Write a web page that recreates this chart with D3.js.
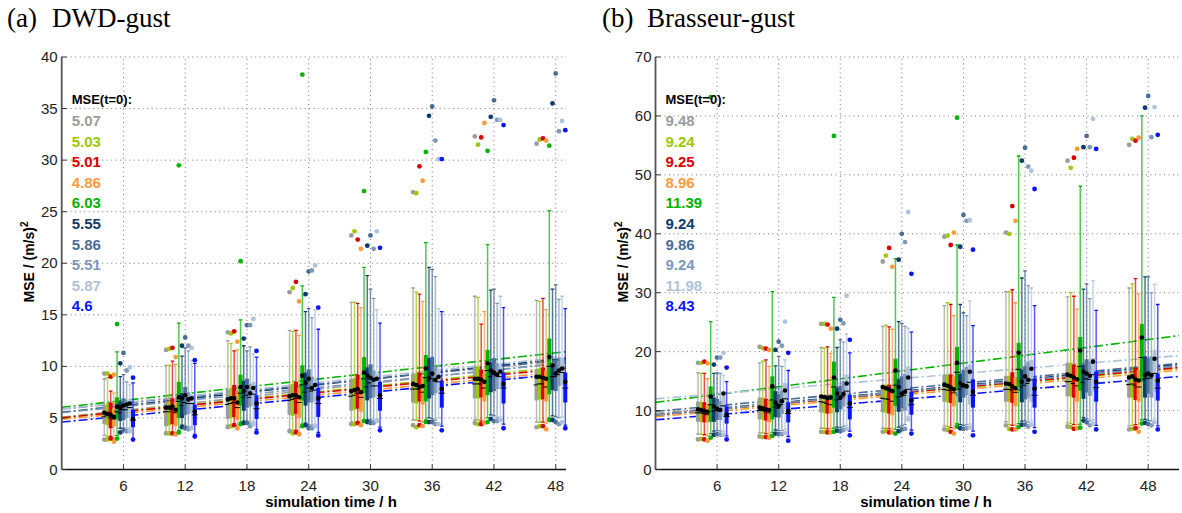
<!DOCTYPE html>
<html>
<head>
<meta charset="utf-8">
<script src="https://cdn.jsdelivr.net/npm/d3@7"></script>
<style>
body { margin: 0; background: #fff; }
svg { display: block; }
</style>
</head>
<body>
<div class="chart"></div>
<script>
// simulation times and the 10 ensemble members
const times = [6, 12, 18, 24, 30, 36, 42, 48];
const memberColors = ["#9c9c9c", "#9dc800", "#dc0000", "#ff9a3c", "#00b400",
                      "#0e3a6c", "#4a6d95", "#7f98b8", "#b1c3d9", "#0a14ff"];

// MSE at t=0 (legend) and slope of the dash-dot fits
const mseA = ["5.07", "5.03", "5.01", "4.86", "6.03", "5.55", "5.86", "5.51", "5.87", "4.6"];
const mseB = ["9.48", "9.24", "9.25", "8.96", "11.39", "9.24", "9.86", "9.24", "11.98", "8.43"];
const slopeA = [0.109, 0.101, 0.098, 0.095, 0.110, 0.107, 0.097, 0.098, 0.103, 0.096];
const slopeB = [0.157, 0.155, 0.158, 0.154, 0.222, 0.168, 0.160, 0.164, 0.144, 0.144];

// (a) DWD-gust — rows: times, columns: members
const aHi = [
  [9.3, 9.3, 9.0, 9.2, 14.1, 10.3, 11.3, 9.6, 9.9, 8.9],
  [11.6, 11.7, 11.8, 10.9, 29.5, 12.0, 12.8, 12.0, 11.8, 10.6],
  [13.3, 13.2, 13.4, 12.4, 20.2, 12.7, 14.0, 14.0, 14.6, 11.5],
  [17.2, 17.6, 18.2, 16.3, 38.3, 17.0, 19.2, 19.3, 19.8, 15.7],
  [22.7, 23.1, 22.3, 21.4, 27.0, 21.7, 22.7, 21.4, 23.1, 21.5],
  [26.9, 26.8, 29.4, 28.0, 30.8, 34.3, 35.2, 31.9, 30.1, 30.1],
  [32.3, 31.5, 32.2, 33.6, 30.9, 34.2, 35.8, 33.9, 33.9, 33.4],
  [31.6, 32.0, 32.1, 31.9, 31.4, 35.5, 38.4, 32.8, 33.8, 32.9]
];
const aWhi = [
  [8.8, 8.9, 7.6, 7.4, 11.4, 9.0, 9.2, 8.5, 8.2, 8.4],
  [10.1, 10.1, 10.5, 10.2, 14.2, 11.0, 11.8, 11.5, 10.6, 10.3],
  [12.5, 12.2, 11.5, 11.6, 14.5, 12.0, 11.5, 11.9, 11.2, 10.9],
  [13.5, 13.4, 13.5, 13.0, 17.8, 15.3, 15.6, 14.7, 15.5, 13.6],
  [16.2, 16.2, 16.1, 15.7, 19.6, 18.8, 17.5, 16.6, 15.5, 14.2],
  [17.6, 17.2, 17.0, 16.3, 22.0, 19.6, 19.4, 18.7, 15.6, 15.3],
  [16.8, 16.7, 14.1, 15.3, 21.8, 17.4, 17.5, 16.1, 16.8, 15.7],
  [16.4, 16.3, 16.6, 15.5, 25.1, 17.5, 17.9, 16.5, 16.8, 15.6]
];
const aQ3 = [
  [6.2, 6.4, 6.5, 5.9, 7.0, 6.6, 6.9, 6.7, 6.8, 5.8],
  [6.5, 6.6, 6.9, 6.5, 8.5, 7.4, 8.0, 7.5, 7.2, 6.3],
  [7.7, 7.9, 8.2, 7.6, 9.2, 8.6, 8.8, 8.3, 8.5, 7.2],
  [8.1, 8.3, 8.5, 7.9, 10.1, 9.4, 9.7, 9.0, 8.8, 7.9],
  [8.6, 8.8, 9.2, 8.7, 10.9, 9.9, 10.2, 9.6, 9.3, 8.5],
  [9.3, 9.3, 9.4, 9.0, 11.1, 10.8, 10.9, 10.0, 9.6, 8.6],
  [9.9, 10.0, 9.7, 9.3, 11.6, 10.4, 10.8, 10.3, 10.1, 9.4],
  [9.7, 9.8, 9.9, 9.6, 12.7, 10.1, 10.6, 10.5, 10.8, 9.4]
];
const aMed = [
  [5.1, 5.2, 5.0, 4.9, 5.6, 5.5, 5.8, 5.8, 6.0, 4.8],
  [5.6, 5.6, 5.8, 5.5, 6.6, 6.2, 6.5, 6.4, 6.4, 5.3],
  [6.3, 6.4, 6.5, 6.0, 7.4, 7.0, 7.2, 7.0, 7.3, 5.9],
  [6.7, 6.8, 6.9, 6.5, 8.2, 7.5, 7.9, 7.6, 7.7, 6.4],
  [7.1, 7.2, 7.4, 7.0, 8.8, 8.0, 8.4, 8.1, 8.1, 6.9],
  [7.8, 7.8, 7.8, 7.5, 8.9, 8.6, 8.8, 8.6, 8.5, 7.4],
  [8.3, 8.3, 8.3, 7.9, 9.6, 9.0, 9.2, 9.1, 9.0, 7.9],
  [8.2, 8.3, 8.3, 8.0, 10.0, 9.0, 9.0, 9.2, 9.4, 7.9]
];
const aQ1 = [
  [4.4, 4.3, 4.0, 4.2, 4.9, 4.7, 4.8, 5.0, 5.0, 4.1],
  [4.2, 4.3, 4.4, 4.2, 5.0, 5.0, 5.3, 5.4, 5.5, 4.3],
  [4.9, 5.0, 5.1, 4.8, 6.2, 5.7, 6.0, 6.1, 6.2, 4.9],
  [5.3, 5.2, 5.4, 5.0, 6.7, 6.2, 6.5, 6.5, 6.6, 5.1],
  [5.7, 5.8, 5.9, 5.6, 7.4, 6.7, 6.9, 7.0, 7.1, 5.7],
  [6.5, 6.4, 6.6, 6.3, 6.6, 6.9, 7.2, 7.4, 7.6, 6.0],
  [6.9, 6.9, 7.0, 6.6, 7.2, 7.5, 7.6, 7.8, 7.9, 6.4],
  [6.7, 6.8, 6.8, 6.6, 7.3, 7.7, 7.6, 8.1, 8.2, 6.5]
];
const aWlo = [
  [3.3, 3.2, 3.2, 3.0, 3.3, 4.0, 4.0, 3.9, 4.0, 3.0],
  [3.6, 3.6, 3.6, 3.5, 3.8, 4.3, 4.2, 4.1, 4.2, 3.4],
  [4.3, 4.3, 4.4, 4.1, 4.6, 4.7, 4.7, 4.5, 4.7, 3.9],
  [3.9, 3.8, 3.8, 3.6, 4.4, 4.5, 4.3, 4.3, 4.4, 3.6],
  [4.6, 4.6, 4.6, 4.5, 4.8, 4.8, 4.8, 4.7, 4.9, 4.1],
  [4.8, 4.8, 4.7, 4.6, 4.8, 5.0, 4.9, 4.8, 5.0, 4.2],
  [4.8, 4.8, 4.7, 4.6, 5.0, 5.3, 5.2, 5.0, 5.1, 4.4],
  [4.6, 4.6, 4.6, 4.5, 5.0, 5.2, 5.1, 5.0, 5.1, 4.3]
];
const aLo = [
  [2.9, 2.9, 3.0, 2.7, 3.0, 3.6, 3.8, 3.7, 3.7, 2.9],
  [3.5, 3.5, 3.5, 3.4, 3.6, 4.1, 4.0, 3.9, 4.0, 3.2],
  [4.1, 4.2, 4.3, 4.0, 4.4, 4.5, 4.5, 4.2, 4.4, 3.6],
  [3.7, 3.5, 3.6, 3.4, 4.2, 4.3, 4.0, 4.0, 4.2, 3.3],
  [4.4, 4.4, 4.5, 4.3, 4.7, 4.6, 4.5, 4.5, 4.7, 3.8],
  [4.3, 4.1, 4.3, 4.2, 4.6, 4.6, 4.6, 4.4, 4.4, 3.8],
  [4.5, 4.4, 4.4, 4.5, 4.6, 4.9, 4.7, 4.7, 4.8, 4.0],
  [4.1, 4.2, 4.2, 3.9, 4.8, 4.8, 4.6, 4.4, 4.6, 4.0]
];
const aMean = [
  [5.5, 5.4, 5.3, 5.1, 6.1, 6.0, 6.2, 6.3, 6.4, 4.9],
  [6.0, 6.0, 6.1, 5.8, 7.0, 6.9, 7.2, 6.8, 6.9, 5.6],
  [6.8, 6.9, 6.9, 6.5, 8.0, 7.6, 8.0, 7.4, 7.9, 6.4],
  [7.1, 7.2, 7.2, 7.0, 9.1, 8.4, 8.8, 7.9, 8.2, 6.9],
  [7.6, 7.7, 7.8, 7.5, 9.4, 9.1, 8.9, 8.7, 8.8, 7.2],
  [8.3, 8.2, 8.0, 8.1, 9.8, 8.9, 9.3, 8.7, 9.0, 7.8],
  [8.8, 8.8, 8.7, 8.5, 10.3, 9.6, 9.4, 9.2, 9.5, 8.3],
  [9.0, 9.0, 8.9, 8.8, 10.9, 10.1, 9.3, 9.6, 9.8, 8.5]
];

// (b) Brasseur-gust
const bHi = [
  [18.1, 18.1, 18.3, 18.0, 63.2, 17.8, 19.0, 19.0, 19.8, 17.3],
  [20.8, 20.6, 20.5, 20.3, null, 20.3, 21.7, 21.0, 25.1, 19.8],
  [24.7, 24.7, 24.6, 23.9, 56.6, 23.9, 25.4, 24.8, 29.5, 22.0],
  [35.3, 36.3, 37.6, 34.4, null, 35.6, 40.0, 38.6, 43.7, 33.2],
  [39.5, 39.7, 38.1, 40.2, 59.7, 37.8, 43.2, 42.2, 42.3, 37.3],
  [40.2, 40.0, 44.7, 42.2, null, 52.4, 54.6, 51.4, 50.7, 47.6],
  [52.4, 51.2, 52.9, 54.4, null, 54.7, 56.6, 54.7, 59.5, 54.4],
  [55.1, 56.1, 55.8, 56.3, null, 61.4, 63.4, 56.4, 61.5, 56.8]
];
const bWhi = [
  [16.4, 16.3, 16.3, 15.4, 25.1, 16.3, 16.4, 16.3, 16.0, 14.9],
  [18.1, 18.4, 18.6, 17.5, 30.2, 17.6, 19.2, 17.5, 18.6, 16.8],
  [20.7, 20.6, 20.8, 19.7, 29.2, 20.7, 22.0, 21.6, 23.0, 19.8],
  [24.3, 24.5, 24.2, 23.8, 35.8, 25.1, 24.8, 24.3, 24.0, 23.3],
  [27.8, 28.3, 28.0, 26.1, 38.1, 28.0, 26.6, 26.1, 28.6, 24.4],
  [30.2, 30.2, 30.5, 28.3, 53.2, 32.5, 33.7, 31.2, 30.8, 27.8],
  [29.3, 30.0, 29.4, 27.2, 48.1, 30.6, 31.5, 29.0, 32.0, 27.0],
  [30.8, 31.5, 32.4, 29.8, 60.0, 32.7, 32.7, 30.0, 31.4, 28.0]
];
const bQ3 = [
  [11.5, 11.5, 11.4, 11.0, 14.1, 12.2, 12.0, 11.6, 12.5, 10.7],
  [12.2, 12.2, 12.0, 11.8, 15.8, 13.3, 12.8, 13.4, 14.7, 11.4],
  [12.7, 12.6, 12.4, 12.3, 18.3, 13.9, 14.2, 15.0, 16.1, 12.7],
  [14.4, 14.4, 14.4, 14.0, 18.8, 15.3, 15.8, 16.2, 17.5, 13.2],
  [16.1, 16.1, 16.1, 15.8, 20.8, 16.2, 16.9, 17.4, 17.8, 15.3],
  [15.9, 15.9, 16.5, 15.6, 21.5, 16.9, 17.5, 18.3, 18.6, 15.4],
  [18.1, 18.1, 17.8, 17.5, 22.5, 17.8, 18.7, 18.3, 18.9, 16.6],
  [16.1, 16.1, 17.2, 16.9, 24.7, 19.2, 18.9, 19.2, 20.3, 16.3]
];
const bMed = [
  [9.6, 9.6, 9.5, 9.3, 11.0, 9.9, 10.0, 9.9, 10.8, 9.0],
  [10.0, 10.0, 9.8, 9.6, 11.8, 10.6, 10.4, 11.0, 12.0, 9.5],
  [11.5, 11.4, 11.2, 11.0, 14.0, 11.8, 11.9, 12.3, 13.3, 10.5],
  [12.1, 12.0, 11.9, 11.6, 14.3, 12.3, 12.4, 12.6, 13.6, 11.0],
  [13.6, 13.5, 13.4, 13.0, 16.5, 13.6, 14.0, 14.3, 14.8, 12.6],
  [13.6, 13.6, 13.5, 13.1, 17.0, 14.0, 14.3, 14.6, 15.2, 12.6],
  [14.9, 14.9, 14.6, 14.2, 17.5, 14.8, 15.4, 15.3, 16.1, 13.9],
  [14.4, 14.5, 14.3, 14.0, 19.0, 15.3, 15.5, 15.5, 16.3, 13.8]
];
const bQ1 = [
  [8.1, 8.1, 8.0, 8.0, 8.1, 8.1, 8.4, 8.4, 9.0, 7.8],
  [8.5, 8.5, 8.3, 8.0, 8.5, 8.9, 8.8, 9.4, 10.2, 8.0],
  [9.7, 9.6, 9.5, 9.5, 10.5, 9.7, 10.2, 10.7, 10.7, 8.5],
  [9.7, 9.7, 9.5, 9.2, 10.8, 9.8, 10.4, 10.0, 10.5, 9.3],
  [11.5, 11.4, 11.3, 10.7, 13.6, 11.4, 12.2, 12.7, 11.0, 10.5],
  [11.5, 11.5, 11.3, 10.7, 14.1, 11.4, 11.9, 12.2, 11.5, 10.5],
  [12.4, 12.4, 12.2, 11.5, 13.4, 12.0, 13.1, 12.5, 13.2, 11.5],
  [12.2, 12.2, 11.8, 11.5, 14.9, 12.2, 12.9, 12.2, 13.1, 11.7]
];
const bWlo = [
  [6.0, 6.0, 5.9, 5.7, 6.1, 6.5, 6.6, 6.5, 6.5, 5.7],
  [6.2, 6.2, 6.1, 6.0, 6.3, 6.7, 6.6, 6.6, 6.8, 5.6],
  [7.0, 7.0, 6.9, 6.9, 7.0, 7.2, 7.1, 7.3, 7.5, 6.5],
  [7.0, 7.0, 6.9, 6.9, 6.8, 7.2, 7.4, 7.6, 9.0, 6.7],
  [7.4, 7.3, 7.1, 6.9, 7.8, 7.6, 7.5, 7.6, 7.7, 6.5],
  [8.1, 7.6, 7.5, 7.5, 7.8, 8.2, 8.2, 8.0, 8.2, 7.1],
  [7.9, 7.8, 7.6, 7.6, 7.7, 8.8, 8.6, 8.2, 8.4, 7.5],
  [7.4, 7.5, 7.6, 7.1, 8.4, 8.5, 8.3, 8.2, 8.6, 7.4]
];
const bLo = [
  [5.1, 5.2, 5.1, 4.9, 5.4, 5.9, 6.0, 5.9, 5.9, 5.1],
  [5.6, 5.5, 5.5, 5.4, 5.7, 6.1, 6.0, 6.0, 6.2, 4.9],
  [6.4, 6.4, 6.3, 6.3, 6.4, 6.6, 6.5, 6.7, 6.9, 5.8],
  [6.4, 6.5, 6.3, 6.3, 6.1, 6.5, 6.8, 6.9, 8.5, 6.1],
  [6.8, 6.7, 6.4, 6.1, 7.3, 7.0, 6.9, 7.0, 7.1, 5.8],
  [7.5, 6.9, 6.8, 6.8, 7.2, 7.6, 7.6, 7.3, 7.6, 6.4],
  [7.3, 7.2, 6.9, 7.0, 7.1, 8.3, 8.0, 7.5, 7.8, 6.8],
  [6.8, 6.9, 7.0, 6.4, 7.8, 7.9, 7.7, 7.5, 8.0, 6.8]
];
const bMean = [
  [10.2, 10.1, 9.9, 9.8, 12.4, 10.7, 10.3, 10.1, 12.9, 9.3],
  [10.5, 10.4, 10.2, 10.1, 14.1, 11.3, 10.8, 11.6, 13.4, 9.9],
  [12.4, 12.3, 12.1, 12.2, 15.6, 12.9, 12.2, 12.8, 14.6, 11.2],
  [14.0, 13.8, 13.6, 13.3, 16.8, 14.0, 12.9, 13.2, 15.6, 11.7],
  [14.4, 14.2, 13.9, 13.6, 18.1, 14.6, 14.3, 14.1, 16.6, 13.2],
  [14.6, 14.5, 14.1, 13.8, 19.8, 14.9, 15.8, 15.2, 17.1, 13.7],
  [16.1, 15.9, 15.6, 15.3, 20.2, 16.6, 16.3, 15.9, 18.3, 14.9],
  [15.6, 15.8, 15.3, 15.1, 22.4, 16.0, 16.3, 16.0, 18.8, 15.1]
];

const svg = d3.select(".chart").append("svg")
    .attr("width", 1182)
    .attr("height", 513);

const sans = "'Liberation Sans', Arial, Helvetica, sans-serif";
const serif = "'Liberation Serif', 'Times New Roman', serif";
const dodge = 0.31; // hours between members inside a group

function drawPanel(p) {
    const x = d3.scaleLinear().domain([0, p.xMax]).range([p.left, p.right]);
    const y = d3.scaleLinear().domain([0, p.yMax]).range([469.5, 57]);
    const g = svg.append("g");

    // dotted grid
    const yTicks = d3.range(p.yStep, p.yMax + 0.1, p.yStep);
    g.append("g").selectAll("line").data(yTicks).join("line")
        .attr("x1", p.left).attr("x2", p.right)
        .attr("y1", d => y(d)).attr("y2", d => y(d))
        .attr("stroke", "#777").attr("stroke-width", 1)
        .attr("stroke-dasharray", "1,3.5");
    g.append("g").selectAll("line").data(times).join("line")
        .attr("x1", d => x(d)).attr("x2", d => x(d))
        .attr("y1", y(0)).attr("y2", y(p.yMax))
        .attr("stroke", "#777").attr("stroke-width", 1)
        .attr("stroke-dasharray", "1,3.5");

    // regression lines
    g.append("g").selectAll("line").data(memberColors).join("line")
        .attr("x1", x(0)).attr("x2", x(p.xMax))
        .attr("y1", (c, k) => y(+p.mse[k]))
        .attr("y2", (c, k) => y(+p.mse[k] + p.slope[k] * p.xMax))
        .attr("stroke", c => c)
        .attr("stroke-width", 1.6)
        .attr("stroke-dasharray", "9,3,2,3");

    // one record per box
    const boxes = [];
    times.forEach((t, i) => {
        memberColors.forEach((c, k) => {
            boxes.push({
                pos: t + (k - 6) * dodge, color: c,
                hi: p.hi[i][k], whi: p.whi[i][k], q3: p.q3[i][k], med: p.med[i][k],
                q1: p.q1[i][k], wlo: p.wlo[i][k], lo: p.lo[i][k], mean: p.mean[i][k]
            });
        });
    });

    const bw = 4;
    const bx = g.append("g").selectAll("g").data(boxes).join("g");
    bx.append("line")
        .attr("x1", d => x(d.pos)).attr("x2", d => x(d.pos))
        .attr("y1", d => y(d.wlo)).attr("y2", d => y(d.whi))
        .attr("stroke", d => d.color).attr("stroke-opacity", 0.7)
        .attr("stroke-width", 1.5);
    bx.append("path")
        .attr("d", d => `M${x(d.pos) - 1.8},${y(d.whi)}h3.6M${x(d.pos) - 1.8},${y(d.wlo)}h3.6`)
        .attr("stroke", d => d.color).attr("stroke-width", 1.3);
    bx.append("rect")
        .attr("x", d => x(d.pos) - bw / 2)
        .attr("width", bw)
        .attr("y", d => y(d.q3))
        .attr("height", d => y(d.q1) - y(d.q3))
        .attr("fill", d => d.color);
    bx.append("line")
        .attr("x1", d => x(d.pos) - 3).attr("x2", d => x(d.pos) + 3)
        .attr("y1", d => y(d.med)).attr("y2", d => y(d.med))
        .attr("stroke", "#000").attr("stroke-width", 1);

    // min / max dots
    g.append("g").selectAll("circle").data(boxes.filter(d => d.hi != null)).join("circle")
        .attr("cx", d => x(d.pos)).attr("cy", d => y(d.hi))
        .attr("r", 2.4).attr("fill", d => d.color);
    g.append("g").selectAll("circle").data(boxes).join("circle")
        .attr("cx", d => x(d.pos)).attr("cy", d => y(d.lo))
        .attr("r", 2.4).attr("fill", d => d.color);
    // means
    g.append("g").selectAll("circle").data(boxes).join("circle")
        .attr("cx", d => x(d.pos)).attr("cy", d => y(d.mean))
        .attr("r", 2.3).attr("fill", "#000");

    // axes
    g.append("line")
        .attr("x1", p.left).attr("x2", p.left).attr("y1", y(0)).attr("y2", y(p.yMax))
        .attr("stroke", "#555").attr("stroke-width", 1.8);
    g.append("line")
        .attr("x1", p.left).attr("x2", p.right).attr("y1", y(0)).attr("y2", y(0))
        .attr("stroke", "#111").attr("stroke-width", 1.4);
    g.append("g").selectAll("line").data(d3.range(0, p.yMax + 0.1, p.yStep)).join("line")
        .attr("x1", p.left).attr("x2", p.left + 5)
        .attr("y1", d => y(d)).attr("y2", d => y(d))
        .attr("stroke", "#333");
    g.append("g").selectAll("line").data(times).join("line")
        .attr("x1", d => x(d)).attr("x2", d => x(d))
        .attr("y1", y(0)).attr("y2", y(0) - 5)
        .attr("stroke", "#333");

    g.append("g").selectAll("text").data(d3.range(0, p.yMax + 0.1, p.yStep)).join("text")
        .attr("x", p.left - 4).attr("y", d => y(d) + 5)
        .attr("text-anchor", "end")
        .style("font-family", sans).style("font-size", "15px").attr("fill", "#222")
        .text(d => d);
    g.append("g").selectAll("text").data(times).join("text")
        .attr("x", d => x(d)).attr("y", 491)
        .attr("text-anchor", "middle")
        .style("font-family", sans).style("font-size", "15px").attr("fill", "#222")
        .text(d => d);

    g.append("text")
        .attr("x", p.xLabel).attr("y", 507)
        .attr("text-anchor", "middle")
        .style("font-family", sans).style("font-size", "15px").style("font-weight", "bold")
        .text("simulation time / h");

    const yl = g.append("text")
        .attr("transform", `translate(${p.yLabel},262) rotate(-90)`)
        .attr("text-anchor", "middle")
        .style("font-family", sans).style("font-size", "14px").style("font-weight", "bold");
    yl.append("tspan").text("MSE / (m/s)");
    yl.append("tspan").attr("dy", -6).style("font-size", "10px").text("2");

    // titles
    g.append("text").attr("x", p.titleX).attr("y", 27)
        .style("font-family", serif).style("font-size", "27px")
        .text(p.tag);
    g.append("text").attr("x", p.titleX + 45).attr("y", 27)
        .style("font-family", serif).style("font-size", "27px")
        .text(p.title);

    // MSE(t=0) legend
    g.append("text").attr("x", p.left + 10).attr("y", 104)
        .style("font-family", sans).style("font-size", "13px").style("font-weight", "bold")
        .text("MSE(t=0):");
    g.append("g").selectAll("text").data(p.mse).join("text")
        .attr("x", p.left + 10).attr("y", (d, k) => 126 + k * 20.6)
        .style("font-family", sans).style("font-size", "15px").style("font-weight", "bold")
        .attr("fill", (d, k) => memberColors[k])
        .text(d => d);
}

drawPanel({
    left: 61.7, right: 566, xMax: 49, yMax: 40, yStep: 5,
    tag: "(a)", title: "DWD-gust", titleX: 7, xLabel: 331, yLabel: 34,
    mse: mseA, slope: slopeA,
    hi: aHi, whi: aWhi, q3: aQ3, med: aMed, q1: aQ1, wlo: aWlo, lo: aLo, mean: aMean
});
drawPanel({
    left: 655.5, right: 1179, xMax: 51, yMax: 70, yStep: 10,
    tag: "(b)", title: "Brasseur-gust", titleX: 602, xLabel: 926, yLabel: 628,
    mse: mseB, slope: slopeB,
    hi: bHi, whi: bWhi, q3: bQ3, med: bMed, q1: bQ1, wlo: bWlo, lo: bLo, mean: bMean
});
</script>
</body>
</html>
